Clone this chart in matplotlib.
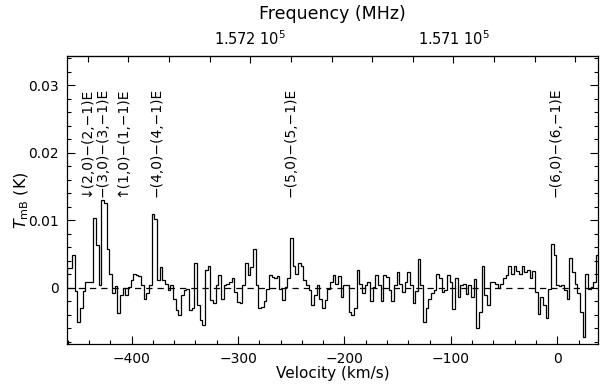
import numpy as np
import matplotlib
matplotlib.use("Agg")
import matplotlib.pyplot as plt
from matplotlib.ticker import MultipleLocator, FixedLocator, FuncFormatter

# ---- data -------------------------------------------------------
v_start = -461.0      # km/s, left edge of first channel
dv = 2.5              # km/s, channel width
f_rest = 157048.9     # MHz at v = 0
c_kms = 299792.458

tmb = [
    0.003, 0.003, 0.0048, -0.0005, -0.005, -0.003, -0.0005, 0.0008, 0.0008, 0.0008,
    0.0103, 0.0063, 0.0004, 0.013, 0.0125, 0.0058, 0.002, -0.0008, 0.0003, -0.0037,
    -0.001, 0.0, -0.001, 0.0002, 0.0011, 0.002, 0.0019, 0.0018, 0.0005, -0.0017,
    -0.0008, 0.0004, 0.011, 0.0102, 0.0011, 0.0031, 0.0011, 0.0006, -0.0003, 0.0004,
    -0.0016, -0.0033, -0.004, -0.001, -0.0003, -0.0001, -0.0033, -0.003, 0.0037, -0.0026,
    -0.0048, -0.0055, 0.0026, 0.0032, -0.0018, -0.0023, 0.0004, 0.0019, -0.0016, 0.0004,
    0.0006, 0.0009, 0.0014, -0.0006, -0.0021, -0.0023, 0.0004, 0.0037, 0.0019, 0.0031,
    0.0057, 0.0004, -0.003, -0.0028, -0.002, -0.0001, 0.0019, 0.0016, 0.0014, 0.0018,
    -0.0001, -0.0018, 0.0002, 0.0014, 0.0074, 0.0033, 0.002, 0.0037, 0.0033, 0.0012,
    0.0004, -0.0003, -0.0026, -0.0011, 0.0004, -0.0016, -0.003, -0.0018, -0.0001, 0.0008,
    0.0019, 0.0006, 0.0018, -0.0013, 0.0005, 0.0004, -0.0035, -0.004, -0.003, 0.0026,
    0.0006, -0.0008, 0.0004, 0.0008, -0.002, 0.0002, 0.0019, 0.0004, -0.002, 0.0019,
    0.0016, -0.0003, -0.002, 0.0004, 0.0023, 0.0006, -0.0006, 0.0008, 0.0024, 0.0004,
    -0.0023, -0.0004, 0.0043, 0.0004, -0.0051, -0.003, -0.0016, -0.0007, -0.0003, 0.002,
    0.0014, -0.0006, -0.0003, 0.0019, 0.0009, -0.0031, 0.0014, -0.0013, 0.0004, 0.0006,
    -0.0009, 0.0005, -0.0013, 0.0013, -0.006, -0.0035, 0.0032, -0.0011, -0.0025, 0.0009,
    0.0008, 0.0006, 0.0, 0.0006, 0.0014, 0.0019, 0.0033, 0.0021, 0.0033, 0.0025,
    0.0021, 0.0032, 0.0023, 0.0026, 0.0015, 0.0025, -0.0006, -0.0038, -0.0013, -0.0026,
    -0.0045, -0.0001, 0.0065, 0.0048, 0.0004, 0.0003, 0.0004, -0.0003, -0.0016, 0.0044,
    0.0024, 0.0006, -0.0008, -0.0035, -0.0072, 0.002, -0.0001, 0.0001, 0.0009, 0.0049,
]

line_labels = ["\u2193(2,0)\u2212(2,\u22121)E", "\u2212(3,0)\u2212(3,\u22121)E",
               "\u2191(1,0)\u2212(1,\u22121)E", "\u2212(4,0)\u2212(4,\u22121)E",
               "\u2212(5,0)\u2212(5,\u22121)E", "\u2212(6,0)\u2212(6,\u22121)E"]
line_vel = [-443, -427.5, -408.5, -376.5, -251, -2]
label_top = 0.0296
freq_major = [157100, 157200]

# ---- style ------------------------------------------------------
plt.rcParams['font.family'] = ['DejaVu Sans']
plt.rcParams['mathtext.fontset'] = 'dejavusans'
plt.rcParams['font.size'] = 10

fig = plt.figure(figsize=(6.0, 3.85), dpi=100)
ax = fig.add_axes([0.112, 0.1065, 0.885, 0.748])

tmb = np.array(tmb)
edges = v_start + dv * np.arange(len(tmb) + 1)
ax.stairs(tmb, edges, color='black', lw=0.9)
ax.axhline(0, color='black', lw=0.9, ls=(0, (5, 4)))

for lab, v in zip(line_labels, line_vel):
    ax.text(v, label_top, lab, rotation=90, ha='center', va='top', fontsize=10)

ax.set_xlim(-460.5, 38.5)
ax.set_ylim(-0.0083, 0.0343)
ax.xaxis.set_major_locator(MultipleLocator(100))
ax.xaxis.set_minor_locator(MultipleLocator(20))
ax.yaxis.set_major_locator(MultipleLocator(0.01))
ax.yaxis.set_minor_locator(MultipleLocator(0.002))
ax.yaxis.set_major_formatter(FuncFormatter(lambda y, p: '%g' % round(y, 4)))
ax.tick_params(which='both', direction='in', right=True, top=False, width=0.8,
               labelsize=10)
ax.tick_params(which='major', length=6, pad=6)
ax.tick_params(which='minor', length=3)
for s in ax.spines.values():
    s.set_linewidth(0.9)

ax.set_xlabel('Velocity (km/s)', fontsize=11, labelpad=0)
ax.set_ylabel(r'$T_{\rm mB}$ (K)', fontsize=11.5, labelpad=-2)


def v2f(v):
    return f_rest * (1 - np.asarray(v) / c_kms)


def f2v(f):
    return c_kms * (1 - np.asarray(f) / f_rest)


top = ax.secondary_xaxis('top', functions=(v2f, f2v))
top.xaxis.set_major_locator(FixedLocator(freq_major))
top.xaxis.set_minor_locator(MultipleLocator(20))
top.xaxis.set_major_formatter(FuncFormatter(lambda f, p: '%.3f $10^5$' % (f / 1e5)))
top.tick_params(which='both', direction='in', width=0.8, labelsize=10.5)
top.tick_params(which='major', length=5, pad=6)
top.tick_params(which='minor', length=4)
top.set_xlabel('Frequency (MHz)', fontsize=12.5, labelpad=7)

fig.savefig('out.png', dpi=100)
